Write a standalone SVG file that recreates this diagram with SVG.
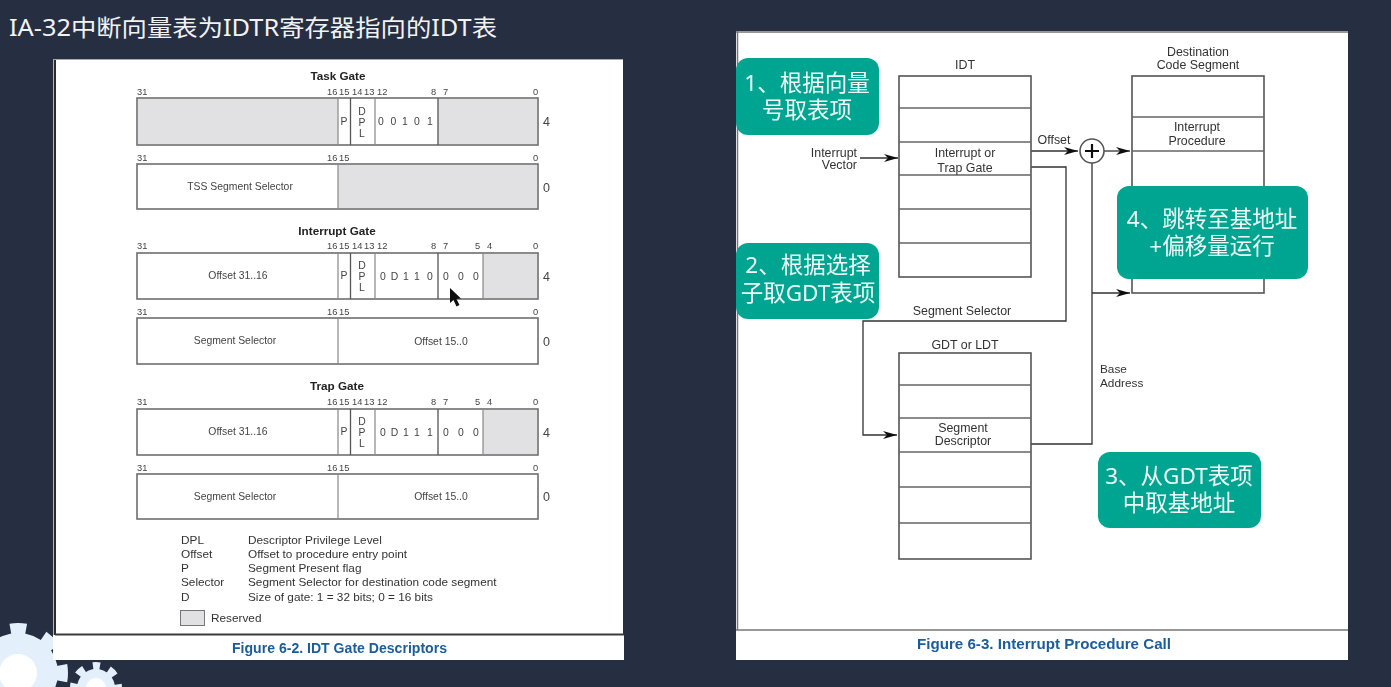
<svg xmlns="http://www.w3.org/2000/svg" width="1391" height="687" viewBox="0 0 1391 687">
<style>
text{font-family:"Liberation Sans","Noto Sans CJK SC",sans-serif;fill:#333}
g{filter:url(#soft)}
.b{font-size:9.3px;fill:#444}
.c{font-size:10.4px;text-anchor:middle;fill:#444}
.l{font-size:12.4px;text-anchor:middle;fill:#333}
.t{font-size:11.7px;font-weight:bold;text-anchor:middle;fill:#222}
.g{font-size:11.8px;fill:#333}
.n{font-size:12.5px;fill:#444}
.cap{font-size:14px;font-weight:bold;fill:#1b5c9b}
.r{fill:#fff;stroke:#6e6e6e;stroke-width:1.6}
.v{stroke:#888;stroke-width:1.2;fill:none}
.d{stroke:#555;stroke-width:1.3;fill:none}
.res{fill:#e1e1e3}
.tb{fill:#fff;stroke:#555;stroke-width:1.6}
.sep{stroke:#666;stroke-width:1.6}
.sk{stroke:#333;stroke-width:1.3;fill:none}
.box{fill:#00a591}
.bt{font-family:"Noto Sans","Noto Sans CJK SC",sans-serif;font-size:22.5px;fill:#eefaf7;text-anchor:middle}
.ttl{font-family:"Noto Sans","Noto Sans CJK SC",sans-serif;font-size:23px;fill:#f2f2f2}
</style>
<defs>
<filter id="soft" filterUnits="userSpaceOnUse" x="0" y="0" width="1391" height="687"><feGaussianBlur stdDeviation="0.35"/></filter>
<marker id="ah" markerUnits="userSpaceOnUse" markerWidth="15" markerHeight="8" refX="14" refY="4" orient="auto"><path d="M0 0L14 4L0 8L4 4Z" fill="#111"/></marker>
</defs>
<rect width="1391" height="687" fill="#262e42"/>
<text class="ttl" x="9" y="36" textLength="488" lengthAdjust="spacingAndGlyphs">IA-32中断向量表为IDTR寄存器指向的IDT表</text>

<g id="gears">
<circle cx="18" cy="673" r="40" fill="#e3f0fc"/>
<circle cx="18" cy="673" r="44" fill="none" stroke="#e3f0fc" stroke-width="12" stroke-dasharray="16 18.56" stroke-dashoffset="8" transform="rotate(-90 18 673)"/>
<circle cx="18" cy="673" r="19" fill="#fff"/>
<circle cx="96" cy="688" r="19" fill="#e3f0fc"/>
<circle cx="96" cy="688" r="22" fill="none" stroke="#e3f0fc" stroke-width="8" stroke-dasharray="8 9.28" stroke-dashoffset="4" transform="rotate(-90 96 688)"/>
<circle cx="96" cy="688" r="10" fill="#fff"/>
</g>

<g id="panel-left">
<rect x="56" y="59" width="567" height="576" fill="#fff"/>
<rect x="53" y="635" width="571" height="25" fill="#fff"/>
<path d="M55 59V635" stroke="#2b2b2b" stroke-width="1.6" fill="none"/>
<path d="M53.500 59V635" stroke="#b5b5b5" stroke-width="1" fill="none"/>
<path d="M55 634.500H624" stroke="#3a3a3a" stroke-width="2" fill="none"/>
<path d="M53 59.500H623" stroke="#aaa" stroke-width="1" fill="none"/>
<text class="cap" x="232" y="653" textLength="215" lengthAdjust="spacingAndGlyphs">Figure 6-2.  IDT Gate Descriptors</text>
</g>

<g id="task-gate">
<text class="t" x="338" y="80">Task Gate</text>
<text class="b" x="137" y="95">31</text><text class="b" x="327" y="95">16</text><text class="b" x="339" y="95">15</text><text class="b" x="352" y="95">14</text><text class="b" x="364" y="95">13</text><text class="b" x="377" y="95">12</text><text class="b" x="431" y="95">8</text><text class="b" x="443" y="95">7</text><text class="b" x="533" y="95">0</text>
<rect class="r" x="137" y="98" width="401" height="47"/>
<rect class="res" x="138" y="99" width="200" height="45"/><rect class="res" x="438" y="99" width="99" height="45"/>
<path class="v" d="M338 98V145M375 98V145"/><path class="d" d="M350.500 98V145M438 98V145"/>
<text class="c" x="344" y="125">P</text><text class="c" x="362" y="115">D</text><text class="c" x="362" y="126">P</text><text class="c" x="362" y="137">L</text>
<text class="c" x="381" y="125">0</text><text class="c" x="393.500" y="125">0</text><text class="c" x="405" y="125">1</text><text class="c" x="417" y="125">0</text><text class="c" x="430" y="125">1</text>
<text class="n" x="543" y="126">4</text>
<text class="b" x="137" y="161">31</text><text class="b" x="327" y="161">16</text><text class="b" x="339" y="161">15</text><text class="b" x="533" y="161">0</text>
<rect class="r" x="137" y="164" width="401" height="45"/>
<rect class="res" x="338" y="165" width="199" height="43"/>
<path class="v" d="M338 164V209"/>
<text class="c" x="240" y="190">TSS Segment Selector</text>
<text class="n" x="543" y="192">0</text>
</g>

<g id="interrupt-gate">
<text class="t" x="337" y="235">Interrupt Gate</text>
<text class="b" x="137" y="249">31</text><text class="b" x="327" y="249">16</text><text class="b" x="339" y="249">15</text><text class="b" x="352" y="249">14</text><text class="b" x="364" y="249">13</text><text class="b" x="377" y="249">12</text><text class="b" x="431" y="249">8</text><text class="b" x="443" y="249">7</text><text class="b" x="475" y="249">5</text><text class="b" x="487" y="249">4</text><text class="b" x="533" y="249">0</text>
<rect class="r" x="137" y="253" width="401" height="46"/>
<rect class="res" x="483" y="254" width="54" height="44"/>
<path class="v" d="M338 253V299M375 253V299M483 253V299"/><path class="d" d="M350.500 253V299M438 253V299"/>
<text class="c" x="238" y="279">Offset 31..16</text>
<text class="c" x="344" y="279">P</text><text class="c" x="362" y="269">D</text><text class="c" x="362" y="280">P</text><text class="c" x="362" y="291">L</text>
<text class="c" x="383" y="280">0</text><text class="c" x="394.500" y="280">D</text><text class="c" x="406" y="280">1</text><text class="c" x="417" y="280">1</text><text class="c" x="430" y="280">0</text><text class="c" x="446" y="280">0</text><text class="c" x="461" y="280">0</text><text class="c" x="476" y="280">0</text>
<text class="n" x="543" y="281">4</text>
<text class="b" x="137" y="315">31</text><text class="b" x="327" y="315">16</text><text class="b" x="339" y="315">15</text><text class="b" x="533" y="315">0</text>
<rect class="r" x="137" y="318" width="401" height="46"/>
<path class="v" d="M338 318V364"/>
<text class="c" x="235" y="344">Segment Selector</text><text class="c" x="441" y="345">Offset 15..0</text>
<text class="n" x="543" y="346">0</text>
<path d="M450 288L450 303L453.500 300L456.500 306.500L459.500 305L456.500 299L461 298.500Z" fill="#111"/>
</g>

<g id="trap-gate">
<text class="t" x="337" y="390">Trap Gate</text>
<text class="b" x="137" y="405">31</text><text class="b" x="327" y="405">16</text><text class="b" x="339" y="405">15</text><text class="b" x="352" y="405">14</text><text class="b" x="364" y="405">13</text><text class="b" x="377" y="405">12</text><text class="b" x="431" y="405">8</text><text class="b" x="443" y="405">7</text><text class="b" x="475" y="405">5</text><text class="b" x="487" y="405">4</text><text class="b" x="533" y="405">0</text>
<rect class="r" x="137" y="409" width="401" height="46"/>
<rect class="res" x="483" y="410" width="54" height="44"/>
<path class="v" d="M338 409V455M375 409V455M483 409V455"/><path class="d" d="M350.500 409V455M438 409V455"/>
<text class="c" x="238" y="435">Offset 31..16</text>
<text class="c" x="344" y="435">P</text><text class="c" x="362" y="425">D</text><text class="c" x="362" y="436">P</text><text class="c" x="362" y="447">L</text>
<text class="c" x="383" y="436">0</text><text class="c" x="394.500" y="436">D</text><text class="c" x="406" y="436">1</text><text class="c" x="417" y="436">1</text><text class="c" x="430" y="436">1</text><text class="c" x="446" y="436">0</text><text class="c" x="461" y="436">0</text><text class="c" x="476" y="436">0</text>
<text class="n" x="543" y="437">4</text>
<text class="b" x="137" y="471">31</text><text class="b" x="327" y="471">16</text><text class="b" x="339" y="471">15</text><text class="b" x="533" y="471">0</text>
<rect class="r" x="137" y="474" width="401" height="45"/>
<path class="v" d="M338 474V519"/>
<text class="c" x="235" y="500">Segment Selector</text><text class="c" x="441" y="500">Offset 15..0</text>
<text class="n" x="543" y="501">0</text>
</g>

<g id="legend">
<text class="g" x="181" y="544">DPL</text><text class="g" x="248" y="544">Descriptor Privilege Level</text>
<text class="g" x="181" y="558">Offset</text><text class="g" x="248" y="558">Offset to procedure entry point</text>
<text class="g" x="181" y="572">P</text><text class="g" x="248" y="572">Segment Present flag</text>
<text class="g" x="181" y="586">Selector</text><text class="g" x="248" y="586">Segment Selector for destination code segment</text>
<text class="g" x="181" y="601">D</text><text class="g" x="248" y="601">Size of gate: 1 = 32 bits; 0 = 16 bits</text>
<rect x="180.500" y="610.500" width="24" height="15" fill="#e1e1e3" stroke="#777"/>
<text class="g" x="211" y="622">Reserved</text>
</g>

<g id="panel-right">
<rect x="736" y="31" width="612" height="629" fill="#fff"/>
<path d="M737.500 31V630M736 32H1348M736 630H1348" stroke="#777" stroke-width="1.500" fill="none"/>
<text class="cap" x="917" y="649" textLength="254" lengthAdjust="spacingAndGlyphs">Figure 6-3.  Interrupt Procedure Call</text>
</g>

<g id="connectors">
<path class="sk" marker-end="url(#ah)" d="M860 158H898"/>
<path class="sk" marker-end="url(#ah)" d="M1031 151H1078"/>
<path class="sk" marker-end="url(#ah)" d="M1104 151H1130"/>
<path class="sk" d="M1092 163V444H1031"/>
<path class="sk" marker-end="url(#ah)" d="M1092 293H1130"/>
<path class="sk" marker-end="url(#ah)" d="M1031 167H1066V321H863V435H897"/>
</g>

<g id="idt">
<text class="l" x="965" y="69">IDT</text>
<rect class="tb" x="899" y="76" width="132" height="201"/>
<path class="sep" d="M899 108H1031M899 142H1031M899 175H1031M899 209H1031M899 243H1031"/>
<text class="l" x="965" y="157">Interrupt or</text><text class="l" x="965" y="172">Trap Gate</text>
</g>

<g id="interrupt-vector"><text class="l" x="857" y="157" style="text-anchor:end">Interrupt</text><text class="l" x="857" y="169" style="text-anchor:end">Vector</text></g>
<g id="offset-label"><text class="l" x="1054" y="144">Offset</text></g>

<g id="adder">
<circle cx="1092" cy="151" r="12" fill="#fff" stroke="#555" stroke-width="1.600"/>
<path d="M1085 151H1099M1092 144V158" stroke="#111" stroke-width="2.200"/>
</g>

<g id="dest-segment">
<text class="l" x="1198" y="56">Destination</text><text class="l" x="1198" y="69">Code Segment</text>
<rect class="tb" x="1132" y="76" width="132" height="217"/>
<path class="sep" d="M1132 117H1264M1132 151H1264"/>
<text class="l" x="1197" y="131">Interrupt</text><text class="l" x="1197" y="145">Procedure</text>
</g>

<g id="segment-selector-label"><text class="l" x="962" y="315">Segment Selector</text></g>

<g id="gdt">
<text class="l" x="965" y="349">GDT or LDT</text>
<rect class="tb" x="899" y="353" width="132" height="206"/>
<path class="sep" d="M899 385H1031M899 418H1031M899 452H1031M899 487H1031M899 523H1031"/>
<text class="l" x="963" y="432">Segment</text><text class="l" x="963" y="445">Descriptor</text>
</g>

<g id="base-address"><text class="g" x="1100" y="373">Base</text><text class="g" x="1100" y="387">Address</text></g>

<g id="step-1"><rect class="box" x="736" y="58" width="143" height="77" rx="12"/><text class="bt"><tspan x="807" y="91">1、根据向量</tspan><tspan x="807" y="118">号取表项</tspan></text></g>
<g id="step-2"><rect class="box" x="736" y="243" width="143" height="76" rx="12"/><text class="bt"><tspan x="808" y="273">2、根据选择</tspan><tspan x="808" y="301">子取GDT表项</tspan></text></g>
<g id="step-3"><rect class="box" x="1098" y="452" width="163" height="76" rx="12"/><text class="bt"><tspan x="1179" y="484">3、从GDT表项</tspan><tspan x="1179" y="511">中取基地址</tspan></text></g>
<g id="step-4"><rect class="box" x="1117" y="186" width="191" height="93" rx="12"/><text class="bt"><tspan x="1212" y="227">4、跳转至基地址</tspan><tspan x="1212" y="254">+偏移量运行</tspan></text></g>
</svg>
